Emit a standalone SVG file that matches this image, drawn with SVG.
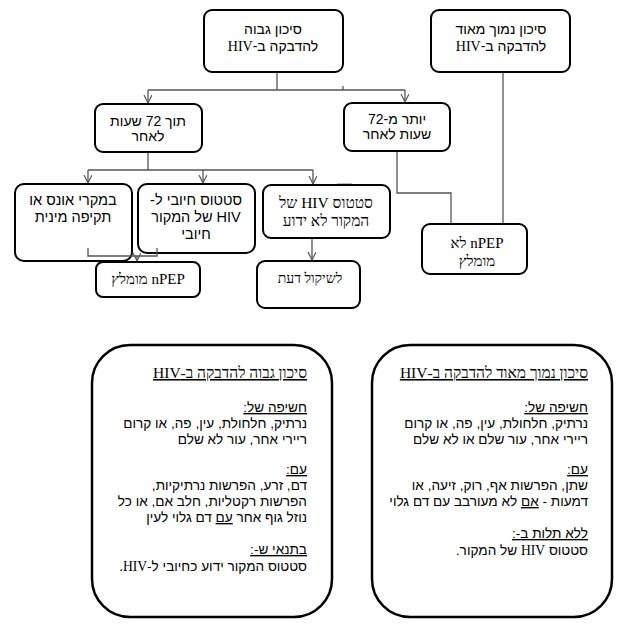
<svg xmlns="http://www.w3.org/2000/svg" width="628" height="624" viewBox="0 0 628 624">
<defs>
<marker id="arr" markerWidth="10" markerHeight="10" refX="8" refY="4" orient="auto" markerUnits="userSpaceOnUse">
<path d="M0,0 L8,4 L0,8" fill="none" stroke="#555" stroke-width="1.2"/>
</marker>
<style>
.box{fill:#fff;stroke:#000;stroke-width:2}
.big{fill:#fff;stroke:#000;stroke-width:2.5}
.ln{fill:none;stroke:#555;stroke-width:1.3}
text{font-family:"Liberation Sans","DejaVu Sans",sans-serif;font-size:14px;fill:#000;direction:rtl}
.c{text-anchor:middle}
.r{text-anchor:start;font-size:13.6px}
.sf{font-family:"Liberation Serif","DejaVu Serif",serif}
.u{text-decoration:underline}
.b{font-size:14.5px}
</style>
</defs>
<rect width="628" height="624" fill="#fff"/>
<g id="connectors">
<path class="ln" d="M277,72 V90"/>
<path class="ln" d="M148,90 H405"/>
<path class="ln" d="M343,86 V90"/>
<path class="ln" d="M148,90 V103" marker-end="url(#arr)"/>
<path class="ln" d="M405,90 V102" marker-end="url(#arr)"/>
<path class="ln" d="M148,152 V170"/>
<path class="ln" d="M88,170 H313"/>
<path class="ln" d="M88,170 V183" marker-end="url(#arr)"/>
<path class="ln" d="M203,170 V183" marker-end="url(#arr)"/>
<path class="ln" d="M313,170 V184" marker-end="url(#arr)"/>
<path class="ln" d="M397,151 V193 H451 V224"/>
<path class="ln" d="M503,72 V224"/>
<path class="ln" d="M312,238 V260" marker-end="url(#arr)"/>
</g>
<g id="n1"><rect class="box" x="204" y="10" width="139" height="62" rx="8"/>
<text class="c" x="273" y="34">סיכון גבוה</text>
<text class="c" x="273" y="51">להדבקה ב-<tspan class="sf">HIV</tspan></text></g>
<g id="n2"><rect class="box" x="431" y="10" width="139" height="62" rx="8"/>
<text class="c" x="501" y="34">סיכון נמוך מאוד</text>
<text class="c" x="501" y="51">להדבקה ב-<tspan class="sf">HIV</tspan></text></g>
<g id="n3"><rect class="box" x="95" y="104" width="107" height="48" rx="8"/>
<text class="c" x="148" y="126">תוך 72 שעות</text>
<text class="c" x="148" y="141">לאחר</text></g>
<g id="n4"><rect class="box" x="344" y="103" width="106" height="48" rx="8"/>
<text class="c" x="397" y="124">יותר מ-72</text>
<text class="c" x="397" y="139">שעות לאחר</text></g>
<g id="n5"><rect class="box" x="15" y="184" width="117" height="77" rx="9"/>
<text class="c b" x="73" y="205">במקרי אונס או</text>
<text class="c b" x="73" y="222">תקיפה מינית</text></g>
<g id="n6"><rect class="box" x="138" y="184" width="117" height="69" rx="9"/>
<text class="c b" x="196" y="205">סטטוס חיובי ל-</text>
<text class="c b" x="196" y="222">HIV של המקור</text>
<text class="c b" x="196" y="239">חיובי</text></g>
<g id="inner-connectors"><path class="ln" d="M88,248 V256 H157 V248"/>
<path class="ln" d="M137,256 V261" marker-end="url(#arr)"/></g>
<g id="n7"><rect class="box" x="263" y="185" width="127" height="53" rx="8"/>
<path d="M337,184.5 H352" stroke="#000" stroke-width="1.5"/>
<text class="c sf" x="326" y="208" style="font-size:15.5px">סטטוס HIV של</text>
<text class="c sf" x="326" y="226" style="font-size:15.5px">המקור לא ידוע</text></g>
<g id="n8"><rect class="box" x="96" y="262" width="104" height="35" rx="7"/>
<text class="c sf" x="148" y="284" style="font-size:15px">nPEP מומלץ</text></g>
<g id="n9"><rect class="box" x="257" y="261" width="103" height="47" rx="8"/>
<text class="c sf" x="310" y="283" style="font-size:14px">לשיקול דעת</text></g>
<g id="n10"><rect class="box" x="422" y="224" width="105" height="50" rx="8"/>
<text class="c sf" x="477" y="248" style="font-size:15px">nPEP לא</text>
<text class="c sf" x="477" y="266" style="font-size:15px">מומלץ</text></g>
<g id="legend-high"><rect class="big" x="92" y="345" width="240" height="272" rx="38"/>
<text class="r sf u" x="307" y="378" style="font-size:15.5px">סיכון גבוה להדבקה ב-HIV</text>
<text class="r u" x="307" y="412">חשיפה של:</text>
<text class="r" x="307" y="428">נרתיק, חלחולת, עין, פה, או קרום</text>
<text class="r" x="307" y="444">ריירי אחר, עור לא שלם</text>
<text class="r u" x="307" y="474">עם:</text>
<text class="r" x="307" y="490">דם, זרע, הפרשות נרתיקיות,</text>
<text class="r" x="307" y="506">הפרשות רקטליות, חלב אם, או כל</text>
<text class="r" x="307" y="522">נוזל גוף אחר <tspan class="u">עם</tspan> דם גלוי לעין</text>
<text class="r u" x="307" y="554">בתנאי ש-:</text>
<text class="r" x="307" y="571">סטטוס המקור ידוע כחיובי ל-<tspan class="sf">HIV.</tspan></text></g>
<g id="legend-low"><rect class="big" x="372" y="345" width="240" height="272" rx="38"/>
<text class="r sf u" x="588" y="378" style="font-size:15.5px">סיכון נמוך מאוד להדבקה ב-HIV</text>
<text class="r u" x="588" y="412">חשיפה של:</text>
<text class="r" x="588" y="428">נרתיק, חלחולת, עין, פה, או קרום</text>
<text class="r" x="588" y="444">ריירי אחר, עור שלם או לא שלם</text>
<text class="r u" x="588" y="474">עם:</text>
<text class="r" x="588" y="490">שתן, הפרשות אף, רוק, זיעה, או</text>
<text class="r" x="588" y="506">דמעות - <tspan class="u">אם</tspan> לא מעורבב עם דם גלוי</text>
<text class="r u" x="588" y="538">ללא תלות ב-:</text>
<text class="r" x="588" y="555">סטטוס <tspan class="sf">HIV</tspan> של המקור.</text></g>
</svg>
